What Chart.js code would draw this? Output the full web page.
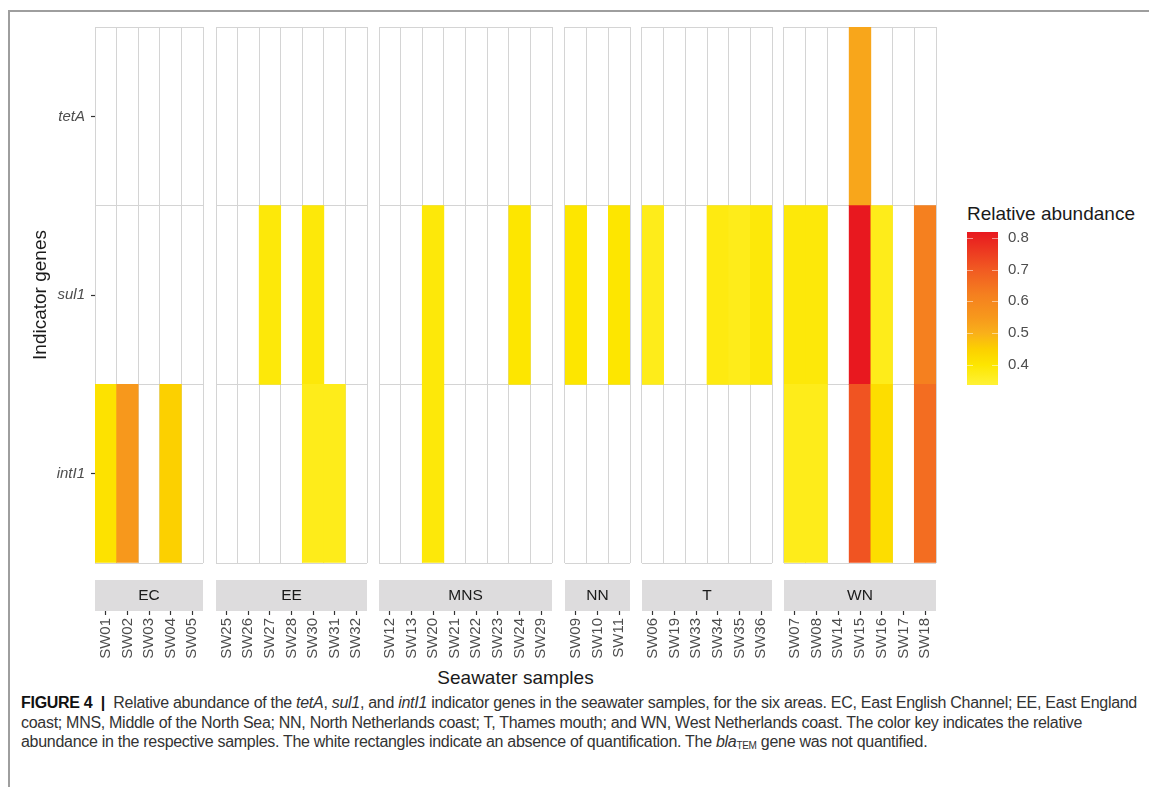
<!DOCTYPE html>
<html><head><meta charset="utf-8">
<script src="https://cdn.jsdelivr.net/npm/chart.js@4.4.1/dist/chart.umd.min.js"></script>
<style>
html,body{margin:0;padding:0;background:#fff;}
body{width:1149px;height:787px;position:relative;overflow:hidden;font-family:'Liberation Sans',Arial,sans-serif;}
#frame{position:absolute;left:8px;top:10px;width:1145px;height:785px;border-top:2px solid #9E9E9E;border-left:2px solid #9E9E9E;}
.panel{position:absolute;}
#xtitle{position:absolute;left:95px;width:841px;top:667px;text-align:center;font-size:19px;line-height:22px;color:#1A1A1A;}
#ltitle{position:absolute;left:967px;top:203px;font-size:19px;line-height:22px;color:#1A1A1A;white-space:nowrap;}
#caption{position:absolute;left:21px;top:693px;font-family:'Liberation Sans Narrow','Liberation Sans',Arial,sans-serif;font-size:16px;line-height:19.5px;color:#333333;white-space:nowrap;}
#caption b{color:#111111;}
#caption sub{font-size:10px;vertical-align:-2px;line-height:0;}
</style></head><body>
<div id="frame"></div>
<div id="xtitle">Seawater samples</div>
<div id="ltitle">Relative abundance</div>
<div id="caption">
<div class="cl" id="cl1"><b>FIGURE 4</b>&nbsp;&nbsp;<b>|</b>&nbsp;&nbsp;Relative abundance of the <i>tetA</i>, <i>sul1</i>, and <i>intI1</i> indicator genes in the seawater samples, for the six areas. EC, East English Channel; EE, East England</div>
<div class="cl">coast; MNS, Middle of the North Sea; NN, North Netherlands coast; T, Thames mouth; and WN, West Netherlands coast. The color key indicates the relative</div>
<div class="cl">abundance in the respective samples. The white rectangles indicate an absence of quantification. The <i>bla</i><sub>TEM</sub> gene was not quantified.</div>
</div>
<script>
// ---------------- data ----------------
const genes = ['intI1', 'sul1', 'tetA'];           // bottom to top
const areas = ['EC', 'EE', 'MNS', 'NN', 'T', 'WN'];

const samplesEC  = ['SW01', 'SW02', 'SW03', 'SW04', 'SW05'];
const samplesEE  = ['SW25', 'SW26', 'SW27', 'SW28', 'SW30', 'SW31', 'SW32'];
const samplesMNS = ['SW12', 'SW13', 'SW20', 'SW21', 'SW22', 'SW23', 'SW24', 'SW29'];
const samplesNN  = ['SW09', 'SW10', 'SW11'];
const samplesT   = ['SW06', 'SW19', 'SW33', 'SW34', 'SW35', 'SW36'];
const samplesWN  = ['SW07', 'SW08', 'SW14', 'SW15', 'SW16', 'SW17', 'SW18'];

// relative abundance (null = not quantified)
const intI1EC = [0.41, 0.55, null, 0.45, null];
const sul1EC  = [null, null, null, null, null];
const tetAEC  = [null, null, null, null, null];

const intI1EE = [null, null, null, null, 0.37, 0.37, null];
const sul1EE  = [null, null, 0.39, null, 0.39, null, null];
const tetAEE  = [null, null, null, null, null, null, null];

const intI1MNS = [null, null, 0.39, null, null, null, null, null];
const sul1MNS  = [null, null, 0.39, null, null, null, 0.40, null];
const tetAMNS  = [null, null, null, null, null, null, null, null];

const intI1NN = [null, null, null];
const sul1NN  = [0.40, null, 0.40];
const tetANN  = [null, null, null];

const intI1T = [null, null, null, null, null, null];
const sul1T  = [0.37, null, null, 0.38, 0.37, 0.39];
const tetAT  = [null, null, null, null, null, null];

const intI1WN = [0.37, 0.37, null, 0.71, 0.42, null, 0.66];
const sul1WN  = [0.39, 0.39, null, 0.82, 0.37, null, 0.62];
const tetAWN  = [null, null, null, 0.52, null, null, null];

const legendTicks = [0.4, 0.5, 0.6, 0.7, 0.8];
const legendMin = 0.337, legendMax = 0.818;

// colour scale
const colorStops = [0.337, 0.40, 0.45, 0.50, 0.55, 0.62, 0.70, 0.818];
const colorHex   = ['#FFF236', '#FDE600', '#FCD000', '#F9B01A', '#F7981C', '#F5801F', '#F15A22', '#E8181F'];

// ---------------- helpers ----------------
function hexToRgb(h) { return [parseInt(h.slice(1,3),16), parseInt(h.slice(3,5),16), parseInt(h.slice(5,7),16)]; }
function colorFor(v) {
  if (v === null || v === undefined) return 'rgba(0,0,0,0)';
  if (v <= colorStops[0]) return colorHex[0];
  for (let k = 1; k < colorStops.length; k++) {
    if (v <= colorStops[k]) {
      const t = (v - colorStops[k-1]) / (colorStops[k] - colorStops[k-1]);
      const a = hexToRgb(colorHex[k-1]), b = hexToRgb(colorHex[k]);
      return 'rgb(' + a.map((c, i) => Math.round(c + (b[i] - c) * t)).join(',') + ')';
    }
  }
  return colorHex[colorHex.length - 1];
}

Chart.defaults.font.family = "'Liberation Sans', Arial, sans-serif";

const facets = [
  { name: areas[0], samples: samplesEC,  rows: [intI1EC,  sul1EC,  tetAEC] },
  { name: areas[1], samples: samplesEE,  rows: [intI1EE,  sul1EE,  tetAEE] },
  { name: areas[2], samples: samplesMNS, rows: [intI1MNS, sul1MNS, tetAMNS] },
  { name: areas[3], samples: samplesNN,  rows: [intI1NN,  sul1NN,  tetANN] },
  { name: areas[4], samples: samplesT,   rows: [intI1T,   sul1T,   tetAT] },
  { name: areas[5], samples: samplesWN,  rows: [intI1WN,  sul1WN,  tetAWN] }
];

// layout
const X0 = 95, COLW = 21.6, GAP = 12.6, TOP = 27, PADTOP = 7, PADX = 2;
const PANEL_H = 536, STRIP_AXIS_H = 48, LABEL_AXIS_H = 60;
const GRID = '#D4D4D4';

const stripPlugin = {
  id: 'strip',
  afterDraw(chart, args, opts) {
    const ctx = chart.ctx, a = chart.chartArea, sx = chart.scales.x;
    ctx.save();
    ctx.fillStyle = '#DDDCDD';
    ctx.fillRect(a.left, sx.bottom - 31, a.right - a.left, 31);
    ctx.fillStyle = '#1A1A1A';
    ctx.font = "15.5px 'Liberation Sans', Arial, sans-serif";
    ctx.textAlign = 'center';
    ctx.textBaseline = 'middle';
    ctx.fillText(opts.text, (a.left + a.right) / 2, sx.bottom - 15);
    ctx.restore();
  }
};

let cum = 0;
facets.forEach((f, i) => {
  const n = f.samples.length;
  const first = i === 0;
  const L = Math.round(X0 + cum * COLW + i * GAP);
  const R = Math.round(X0 + (cum + n) * COLW + i * GAP);
  const yW = first ? 90 : 0;
  const div = document.createElement('div');
  div.className = 'panel';
  div.style.left = (L - yW - PADX) + 'px';
  div.style.top = (TOP - PADTOP) + 'px';
  div.style.width = (R - L + yW + 2 * PADX) + 'px';
  div.style.height = (PADTOP + PANEL_H + STRIP_AXIS_H + LABEL_AXIS_H) + 'px';
  const cv = document.createElement('canvas');
  div.appendChild(cv);
  document.body.appendChild(div);

  const datasets = f.rows.map((vals, gi) => ({
    label: genes[gi],
    data: vals.map(v => (v === null ? null : [gi, gi + 1])),
    backgroundColor: vals.map(colorFor),
    borderWidth: 0,
    grouped: false,
    barPercentage: 1,
    categoryPercentage: 1
  }));

  new Chart(cv, {
    type: 'bar',
    data: { labels: f.samples, datasets },
    options: {
      animation: false,
      responsive: true,
      maintainAspectRatio: false,
      events: [],
      layout: { padding: { top: PADTOP, bottom: 0, left: PADX, right: PADX } },
      plugins: { legend: { display: false }, tooltip: { enabled: false }, strip: { text: f.name } },
      scales: {
        x: {
          type: 'category', position: 'bottom', offset: true,
          grid: { offset: true, color: GRID, lineWidth: 1, drawTicks: false },
          border: { display: false },
          ticks: { display: false },
          afterFit: s => { s.height = STRIP_AXIS_H; s.paddingLeft = 0; s.paddingRight = 0; }
        },
        x2: {
          type: 'category', position: 'bottom', offset: true, labels: f.samples,
          grid: { offset: false, drawOnChartArea: false, tickLength: 4, tickColor: '#333333', tickWidth: 1.2 },
          border: { display: false },
          ticks: { autoSkip: false, minRotation: 90, maxRotation: 90, padding: 3, color: '#4D4D4D', font: { size: 15 } },
          afterFit: s => { s.height = LABEL_AXIS_H; s.paddingLeft = 0; s.paddingRight = 0; }
        },
        y: {
          type: 'linear', min: 0, max: 3,
          afterBuildTicks: s => { s.ticks = [0, 0.5, 1, 1.5, 2, 2.5, 3].map(v => ({ value: v })); },
          grid: {
            color: c => (Number.isInteger(c.tick.value) ? GRID : 'rgba(0,0,0,0)'),
            tickColor: c => (Number.isInteger(c.tick.value) ? 'rgba(0,0,0,0)' : '#333333'),
            tickLength: 4, tickWidth: 1.2, drawTicks: first
          },
          border: { display: false },
          ticks: {
            display: first, padding: 6, color: '#4D4D4D',
            font: { size: 15, style: 'italic' },
            callback: v => (Number.isInteger(v) ? '' : genes[Math.floor(v)])
          },
          title: { display: first, text: 'Indicator genes', color: '#1A1A1A', font: { size: 19 }, padding: { top: 24, bottom: 0 } },
          afterFit: s => { s.width = yW; s.paddingTop = 0; s.paddingBottom = 0; }
        }
      }
    },
    plugins: [stripPlugin]
  });
  cum += n;
});

// ---------------- colour bar ----------------
const colorbarPlugin = {
  id: 'colorbar',
  beforeDatasetsDraw(chart) {
    const ctx = chart.ctx, a = chart.chartArea, y = chart.scales.y;
    const g = ctx.createLinearGradient(0, a.bottom, 0, a.top);
    colorStops.forEach((v, k) => {
      const p = (a.bottom - y.getPixelForValue(v)) / (a.bottom - a.top);
      g.addColorStop(Math.min(1, Math.max(0, p)), colorHex[k]);
    });
    ctx.save();
    ctx.fillStyle = g;
    ctx.fillRect(a.left, a.top, a.right - a.left, a.bottom - a.top);
    ctx.strokeStyle = 'rgba(255,255,255,0.5)';
    ctx.lineWidth = 1;
    legendTicks.forEach(v => {
      const py = Math.round(y.getPixelForValue(v)) + 0.5;
      ctx.beginPath();
      ctx.moveTo(a.left, py); ctx.lineTo(a.left + 6, py);
      ctx.moveTo(a.right - 6, py); ctx.lineTo(a.right, py);
      ctx.stroke();
    });
    ctx.restore();
  }
};
(function () {
  const div = document.createElement('div');
  div.className = 'panel';
  div.style.left = '967px';
  div.style.top = '226px';
  div.style.width = '71px';
  div.style.height = '165px';
  const cv = document.createElement('canvas');
  div.appendChild(cv);
  document.body.appendChild(div);
  new Chart(cv, {
    type: 'bar',
    data: { labels: [''], datasets: [] },
    options: {
      animation: false, responsive: true, maintainAspectRatio: false, events: [],
      layout: { padding: { top: 6, bottom: 6, left: 0, right: 0 } },
      plugins: { legend: { display: false }, tooltip: { enabled: false } },
      scales: {
        x: { display: false },
        y: {
          position: 'right', min: legendMin, max: legendMax,
          afterBuildTicks: s => { s.ticks = legendTicks.map(v => ({ value: v })); },
          grid: { drawOnChartArea: false, drawTicks: false },
          border: { display: false },
          ticks: { padding: 10, color: '#4D4D4D', font: { size: 15 }, callback: v => v.toFixed(1) },
          afterFit: s => { s.width = 40; s.paddingTop = 0; s.paddingBottom = 0; }
        }
      }
    },
    plugins: [colorbarPlugin]
  });
})();

// fit caption line width to reference (line 1 spans ~1116 px)
(function () {
  const l1 = document.getElementById('cl1');
  const span = document.createElement('span');
  span.innerHTML = l1.innerHTML;
  span.style.whiteSpace = 'nowrap';
  l1.innerHTML = '';
  l1.appendChild(span);
  const w = span.getBoundingClientRect().width;
  const chars = span.textContent.length;
  const ls = (1116 - w) / chars;
  document.getElementById('caption').style.letterSpacing = ls.toFixed(3) + 'px';
})();
</script>
</body></html>
